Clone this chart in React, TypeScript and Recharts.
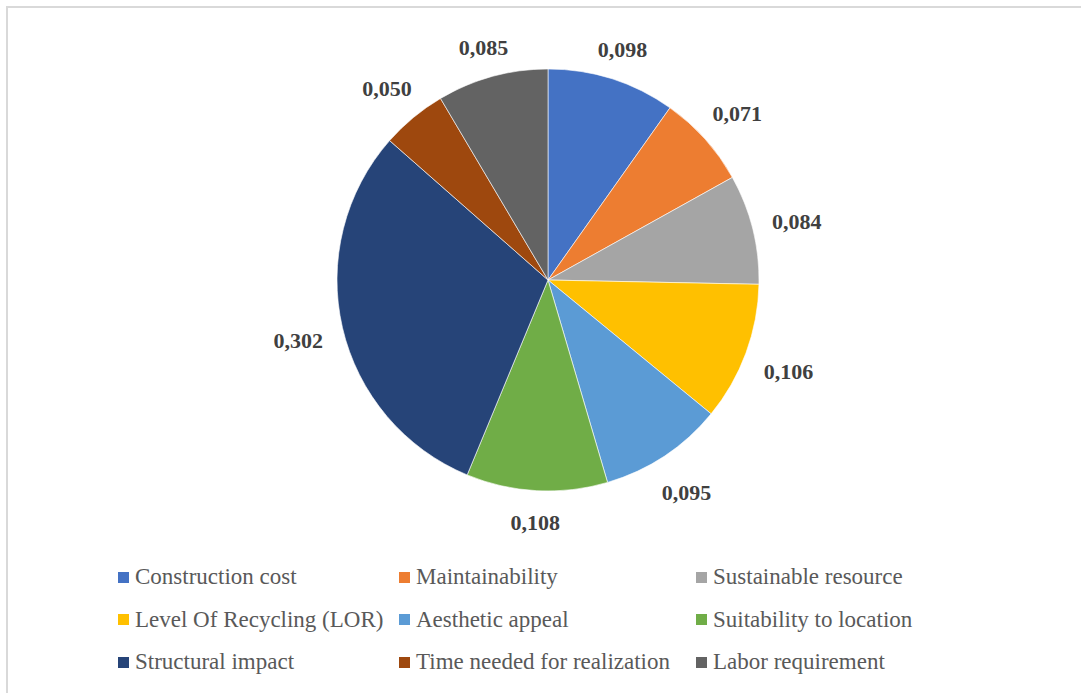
import { PieChart, Pie, Cell } from "recharts";

const criteria = [
  "Construction cost",
  "Maintainability",
  "Sustainable resource",
  "Level Of Recycling (LOR)",
  "Aesthetic appeal",
  "Suitability to location",
  "Structural impact",
  "Time needed for realization",
  "Labor requirement",
];
const weights = [0.098, 0.071, 0.084, 0.106, 0.095, 0.108, 0.302, 0.05, 0.085];
const colors = ["#4472C4", "#ED7D31", "#A5A5A5", "#FFC000", "#5B9BD5", "#70AD47", "#264478", "#9E480E", "#636363"];

const data = criteria.map((name, i) => ({ name, value: weights[i] }));

const RAD = Math.PI / 180;
const FONT = '"Liberation Serif", "Times New Roman", serif';

function renderLabel(props: any) {
  const { cx, cy, midAngle, outerRadius, value } = props;
  const dx = Math.cos(midAngle * RAD);
  const dy = -Math.sin(midAngle * RAD);
  // push the label box just clear of the rim
  const r = outerRadius + 18 + 26 * Math.abs(dx) + 9 * Math.abs(dy);
  return (
    <text
      x={cx + r * dx}
      y={cy + r * dy + 3}
      textAnchor="middle"
      dominantBaseline="central"
      fill="#404040"
      fontFamily={FONT}
      fontWeight="bold"
      fontSize={22}
    >
      {value.toFixed(3).replace(".", ",")}
    </text>
  );
}

function LegendGrid() {
  return (
    <div
      style={{
        position: "absolute",
        left: 118,
        top: 556,
        display: "grid",
        gridTemplateColumns: "281px 297px auto",
        fontFamily: FONT,
        fontSize: 23,
        color: "#595959",
      }}
    >
      {criteria.map((name, i) => (
        <div key={name} style={{ display: "flex", alignItems: "center", height: 42.5, whiteSpace: "nowrap" }}>
          <span style={{ width: 11, height: 11, background: colors[i], marginRight: 6, display: "inline-block" }} />
          {name}
        </div>
      ))}
    </div>
  );
}

export default function App() {
  return (
    <div style={{ position: "fixed", left: 0, top: 0, width: 1081, height: 693, background: "#fff", overflow: "hidden" }}>
      <div
        style={{
          position: "absolute",
          left: 6,
          top: 6,
          width: 1100,
          height: 720,
          border: "2px solid #d9d9d9",
          boxSizing: "border-box",
        }}
      />
      <div style={{ position: "absolute", left: 0, top: 0 }}>
        <PieChart width={1081} height={693} margin={{ top: 0, right: 0, bottom: 0, left: 0 }}>
          <Pie
            data={data}
            dataKey="value"
            nameKey="name"
            cx={548}
            cy={280}
            outerRadius={211}
            startAngle={90}
            endAngle={-270}
            stroke="#fff"
            strokeWidth={0.6}
            label={renderLabel}
            labelLine={false}
            isAnimationActive={false}
          >
            {data.map((d, i) => (
              <Cell key={d.name} fill={colors[i]} />
            ))}
          </Pie>
        </PieChart>
      </div>
      <LegendGrid />
    </div>
  );
}
